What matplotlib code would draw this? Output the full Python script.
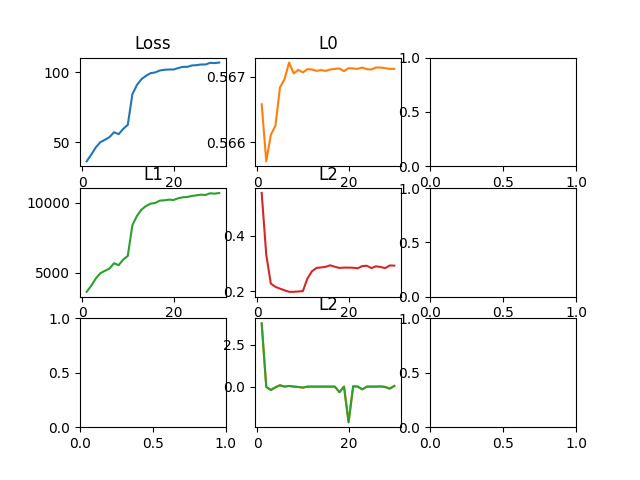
import matplotlib
matplotlib.use("Agg")
import matplotlib.pyplot as plt
import numpy as np

# epochs 1..30
epochs = list(range(1, 31))

loss = [36.2, 41.0, 46.2, 50.0, 51.7, 53.6, 57.1, 55.7, 59.5, 62.4,
        84.3, 91.0, 95.2, 97.6, 99.5, 100.0, 101.4, 101.9, 102.1, 102.1,
        103.1, 104.0, 104.0, 105.0, 105.2, 105.7, 105.7, 106.9, 106.7, 107.1]

l0 = [0.566581, 0.565712, 0.566116, 0.566253, 0.566838, 0.566965, 0.567217, 0.567051, 0.567106, 0.567066,
      0.567116, 0.567111, 0.567091, 0.567101, 0.567091, 0.567111, 0.567121, 0.567126, 0.567086, 0.567131,
      0.567126, 0.567121, 0.567141, 0.567116, 0.567111, 0.567141, 0.567141, 0.567131, 0.567121, 0.567121]

l1 = [3619, 4048, 4571, 4952, 5119, 5286, 5667, 5524, 5929, 6190,
      8381, 9048, 9500, 9762, 9929, 9976, 10143, 10167, 10214, 10190,
      10310, 10381, 10405, 10476, 10524, 10571, 10548, 10667, 10643, 10690]

l2 = [0.5545, 0.331, 0.227, 0.2156, 0.209, 0.203, 0.1976, 0.1976, 0.1988, 0.2,
      0.2455, 0.272, 0.284, 0.2856, 0.288, 0.2934, 0.288, 0.2838, 0.285, 0.285,
      0.2845, 0.2825, 0.2905, 0.2916, 0.2832, 0.2898, 0.2872, 0.2832, 0.2928, 0.2921]

l2_b = [3.76, 0.0, -0.18, -0.02, 0.1, 0.02, 0.06, 0.02, 0.0, -0.04,
        0.02, 0.02, 0.02, 0.02, 0.02, 0.02, 0.02, -0.31, 0.02, -2.09,
        0.04, 0.02, -0.14, 0.02, 0.02, 0.02, 0.03, 0.0, -0.1, 0.06]

fig, axs = plt.subplots(3, 3)

axs[0, 0].plot(epochs, loss, color="C0")
axs[0, 0].set_title("Loss")

axs[0, 1].plot(epochs, l0, color="C1")
axs[0, 1].set_title("L0")

axs[1, 0].plot(epochs, l1, color="C2")
axs[1, 0].set_title("L1")

axs[1, 1].plot(epochs, l2, color="C3")
axs[1, 1].set_title("L2")

axs[2, 1].plot(epochs, l2_b, color="C1")
axs[2, 1].plot(epochs, l2_b, color="C2")
axs[2, 1].set_title("L2")

plt.savefig("out.png")
